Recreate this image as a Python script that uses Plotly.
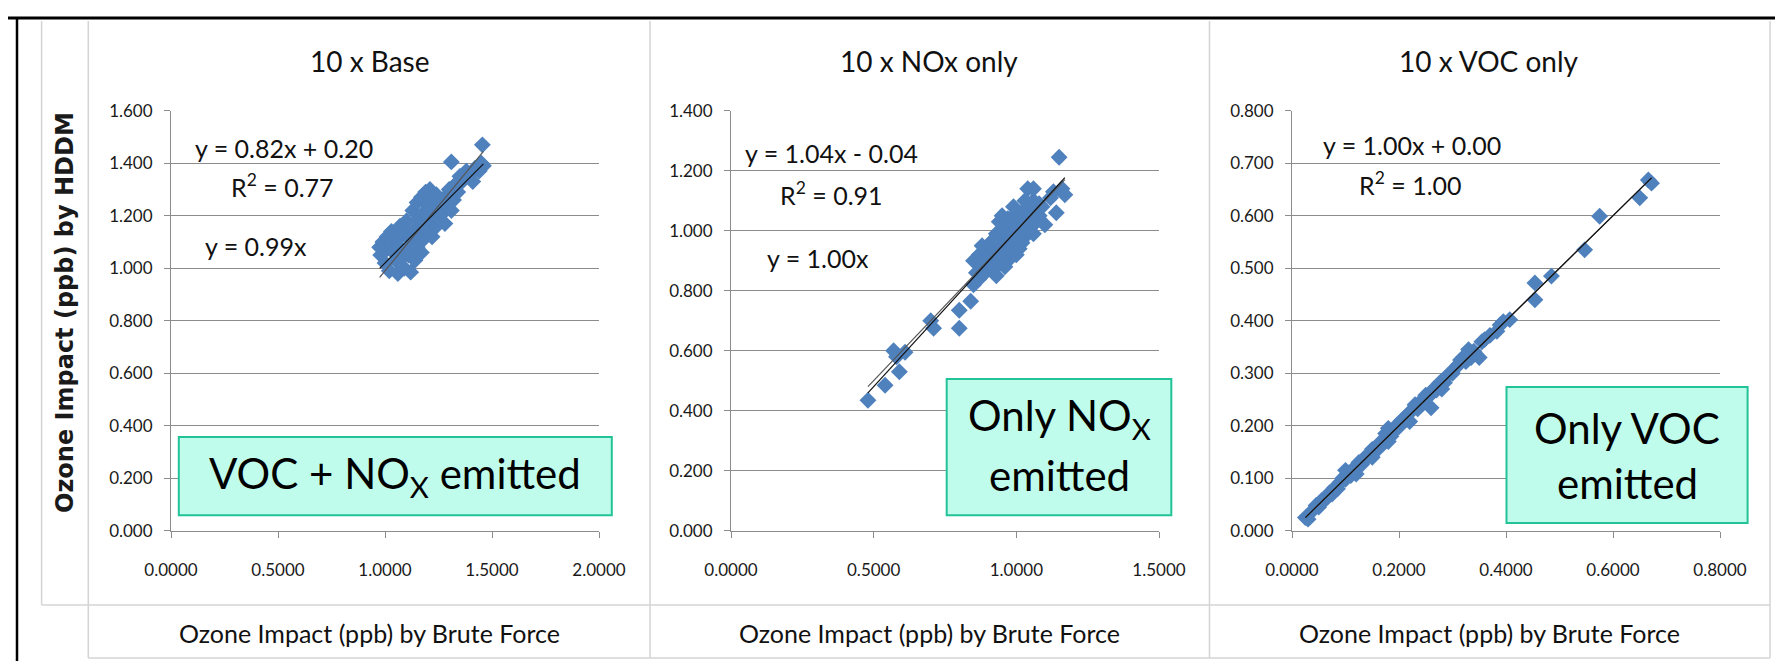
import plotly.graph_objects as go

W, H = 1783, 661

# ---------------- data ----------------
titles = ["10 x Base", "10 x NOx only", "10 x VOC only"]

base_x = [0.975, 0.98, 0.99, 1.00, 1.01, 1.00, 1.02, 1.03, 1.03, 1.04,
          1.05, 1.06, 1.06, 1.07, 1.07, 1.08, 1.09, 1.09, 1.10, 1.10,
          1.11, 1.12, 1.12, 1.13, 1.13, 1.14, 1.14, 1.15, 1.15, 1.16,
          1.16, 1.17, 1.17, 1.18, 1.18, 1.19, 1.19, 1.20, 1.20, 1.21,
          1.21, 1.22, 1.22, 1.23, 1.24, 1.24, 1.25, 1.25, 1.26, 1.27,
          1.28, 1.28, 1.29, 1.30, 1.31, 1.31, 1.32, 1.33, 1.34, 1.35,
          1.36, 1.38, 1.39, 1.41, 1.42, 1.44, 1.45, 1.455, 1.46, 1.40]
base_y = [1.08, 1.05, 1.10, 1.07, 1.12, 1.02, 0.99, 1.09, 1.14, 1.06,
          1.03, 0.98, 1.11, 1.16, 1.08, 1.04, 1.13, 1.00, 1.18, 1.07,
          1.05, 0.985, 1.12, 1.22, 1.10, 1.15, 1.03, 1.25, 1.08, 1.19,
          1.13, 1.27, 1.06, 1.21, 1.11, 1.17, 1.29, 1.24, 1.14, 1.19,
          1.30, 1.12, 1.26, 1.21, 1.16, 1.28, 1.23, 1.19, 1.25, 1.21,
          1.27, 1.17, 1.24, 1.30, 1.405, 1.22, 1.26, 1.32, 1.29, 1.35,
          1.33, 1.37, 1.35, 1.33, 1.38, 1.37, 1.40, 1.47, 1.39, 1.36]

nox_x = [0.48, 0.54, 0.57, 0.58, 0.59, 0.61, 0.70, 0.71, 0.80, 0.80,
         0.84, 0.85, 0.86, 0.85, 0.87, 0.87, 0.88, 0.88, 0.89, 0.89,
         0.90, 0.90, 0.91, 0.91, 0.92, 0.92, 0.93, 0.93, 0.94, 0.94,
         0.94, 0.95, 0.95, 0.95, 0.96, 0.96, 0.97, 0.97, 0.97, 0.98,
         0.98, 0.98, 0.99, 0.99, 1.00, 1.00, 1.00, 1.01, 1.01, 1.02,
         1.02, 1.02, 1.03, 1.03, 1.04, 1.04, 1.04, 1.05, 1.05, 1.06,
         1.06, 1.06, 1.07, 1.07, 1.08, 1.08, 1.10, 1.13, 1.14, 1.15,
         1.16, 1.17, 1.12, 1.09, 0.96, 0.92, 1.01, 0.99, 0.93, 1.03]
nox_y = [0.435, 0.485, 0.60, 0.58, 0.53, 0.595, 0.70, 0.675, 0.675, 0.735,
         0.765, 0.82, 0.86, 0.90, 0.84, 0.92, 0.88, 0.95, 0.86, 0.91,
         0.93, 0.88, 0.96, 0.90, 0.94, 0.87, 0.99, 0.91, 1.03, 0.95,
         0.89, 1.05, 0.97, 0.92, 1.00, 0.94, 1.04, 0.96, 0.90, 1.02,
         0.98, 0.93, 1.05, 0.95, 1.01, 0.97, 0.92, 1.04, 0.99, 1.06,
         0.96, 1.01, 1.03, 0.98, 1.08, 1.00, 1.14, 1.05, 1.02, 1.10,
         0.99, 1.14, 1.07, 1.03, 1.09, 1.05, 1.02, 1.13, 1.06, 1.245,
         1.14, 1.12, 1.11, 1.08, 0.88, 0.97, 0.94, 1.08, 0.85, 1.10]

voc_x = [0.025, 0.03, 0.04, 0.045, 0.05, 0.055, 0.06, 0.065, 0.07, 0.075,
         0.08, 0.085, 0.09, 0.095, 0.10, 0.105, 0.11, 0.115, 0.12, 0.125,
         0.13, 0.135, 0.14, 0.145, 0.15, 0.155, 0.16, 0.165, 0.17, 0.175,
         0.18, 0.185, 0.19, 0.195, 0.20, 0.205, 0.21, 0.215, 0.22, 0.225,
         0.23, 0.235, 0.24, 0.245, 0.25, 0.255, 0.26, 0.265, 0.27, 0.275,
         0.28, 0.285, 0.29, 0.30, 0.305, 0.31, 0.315, 0.32, 0.325, 0.33,
         0.335, 0.34, 0.35, 0.355, 0.36, 0.37, 0.383, 0.389, 0.395, 0.407,
         0.454, 0.454, 0.485, 0.547, 0.575, 0.65, 0.666, 0.672,
         0.10, 0.12, 0.15, 0.18, 0.22, 0.28, 0.33]
voc_y = [0.025, 0.022, 0.04, 0.048, 0.045, 0.057, 0.06, 0.062, 0.072, 0.07,
         0.082, 0.08, 0.092, 0.10, 0.098, 0.11, 0.105, 0.118, 0.12, 0.13,
         0.126, 0.138, 0.14, 0.143, 0.155, 0.15, 0.162, 0.168, 0.165, 0.185,
         0.195, 0.18, 0.19, 0.20, 0.198, 0.21, 0.215, 0.212, 0.225, 0.23,
         0.24, 0.232, 0.245, 0.25, 0.258, 0.255, 0.234, 0.27, 0.268, 0.28,
         0.285, 0.282, 0.295, 0.30, 0.31, 0.315, 0.325, 0.33, 0.322, 0.335,
         0.33, 0.342, 0.33, 0.36, 0.364, 0.372, 0.38, 0.392, 0.398, 0.402,
         0.472, 0.44, 0.485, 0.535, 0.599, 0.634, 0.668, 0.662,
         0.115, 0.108, 0.14, 0.17, 0.208, 0.27, 0.345]

fit_slope = [0.82, 1.04, 1.00]
fit_intercept = [0.20, -0.04, 0.00]
origin_slope = [0.99, 1.00, 1.00]

x_ranges = [[0, 2.0], [0, 1.5], [0, 0.8]]
x_dticks = [0.5, 0.5, 0.2]
y_ranges = [[0, 1.6], [0, 1.4], [0, 0.8]]
y_dticks = [0.2, 0.2, 0.1]

fit_labels = ["y = 0.82x + 0.20", "y = 1.04x - 0.04", "y = 1.00x + 0.00"]
r2_labels = ["R<sup>2</sup> = 0.77", "R<sup>2</sup> = 0.91", "R<sup>2</sup> = 1.00"]
origin_labels = ["y = 0.99x", "y = 1.00x", None]
box_lines = [["VOC + NO<sub>X</sub> emitted"],
             ["Only NO<sub>X</sub>", "emitted"],
             ["Only VOC", "emitted"]]
x_title = "Ozone Impact (ppb) by Brute Force"
y_title = "Ozone Impact (ppb) by HDDM"

# ---------------- layout geometry (pixels) ----------------
def fx(px):
    return px / W

def fy(py):
    return 1 - py / H

plot_x = [(163, 591), (723, 1151), (1284, 1712)]
plot_top, plot_bottom = 102.7, 522.7
cell_centers = [361, 921, 1481]

FONT = "Lato, 'Open Sans', sans-serif"
BLUE = "#4F81BD"
GRID = "#8C8C8C"

fig = go.Figure()
series = [(base_x, base_y), (nox_x, nox_y), (voc_x, voc_y)]

for i, (xs, ys) in enumerate(series):
    sfx = "" if i == 0 else str(i + 1)
    xa, ya = "x" + sfx, "y" + sfx
    fig.add_trace(go.Scatter(x=xs, y=ys, mode="markers", xaxis=xa, yaxis=ya,
                             marker=dict(symbol="diamond", size=13, color=BLUE,
                                         line=dict(width=0)),
                             showlegend=False, hoverinfo="x+y"))
    xmin, xmax = min(xs), max(xs)
    fig.add_trace(go.Scatter(x=[xmin, xmax],
                             y=[origin_slope[i] * xmin, origin_slope[i] * xmax],
                             mode="lines", xaxis=xa, yaxis=ya,
                             line=dict(color="#555555", width=1.2),
                             showlegend=False, hoverinfo="skip"))
    fig.add_trace(go.Scatter(x=[xmin, xmax],
                             y=[fit_slope[i] * xmin + fit_intercept[i],
                                fit_slope[i] * xmax + fit_intercept[i]],
                             mode="lines", xaxis=xa, yaxis=ya,
                             line=dict(color="#111111", width=1.2),
                             showlegend=False, hoverinfo="skip"))

layout = dict(width=W, height=H, autosize=False,
              margin=dict(l=0, r=0, t=0, b=0, pad=0, autoexpand=False),
              paper_bgcolor="white", plot_bgcolor="white", showlegend=False,
              font=dict(family=FONT, color="#1a1a1a"))

for i in range(3):
    sfx = "" if i == 0 else str(i + 1)
    x0, x1 = plot_x[i]
    layout["xaxis" + sfx] = dict(
        domain=[fx(x0), fx(x1)], anchor="y" + sfx, range=x_ranges[i],
        dtick=x_dticks[i], tick0=0, tickformat=".4f", showgrid=False,
        zeroline=False, showline=True, linecolor=GRID, linewidth=1,
        ticks="outside", ticklen=6, tickcolor=GRID, tickwidth=1,
        tickfont=dict(family=FONT, size=17, color="#1a1a1a"),
        ticklabelstandoff=18, automargin=False, fixedrange=True)
    layout["yaxis" + sfx] = dict(
        domain=[fy(plot_bottom), fy(plot_top)], anchor="x" + sfx,
        range=y_ranges[i], dtick=y_dticks[i], tick0=0, tickformat=".3f",
        showgrid=True, gridcolor=GRID, gridwidth=1, zeroline=False,
        showline=True, linecolor=GRID, linewidth=1, ticks="outside",
        ticklen=6, tickcolor=GRID, tickwidth=1,
        tickfont=dict(family=FONT, size=17, color="#1a1a1a"),
        ticklabelstandoff=8, automargin=False, fixedrange=True)

fig.update_layout(**layout)

shapes = []
# black frame (top and left)
shapes.append(dict(type="line", xref="paper", yref="paper", x0=0, x1=1,
                   y0=fy(10), y1=fy(10), line=dict(color="black", width=3)))
shapes.append(dict(type="line", xref="paper", yref="paper", x0=fx(9), x1=fx(9),
                   y0=fy(9), y1=0, line=dict(color="black", width=2.5)))
# light grey table lines
LG = "#D4D4D4"
for xv, ybot in [(33.6, 597), (80.3, 650), (642, 650), (1201.5, 650), (1762, 650)]:
    shapes.append(dict(type="line", xref="paper", yref="paper", x0=fx(xv), x1=fx(xv),
                       y0=fy(13), y1=fy(ybot), line=dict(color=LG, width=1.5)))
for yv, xl in [(597, 33.6), (650, 80.3)]:
    shapes.append(dict(type="line", xref="paper", yref="paper", x0=fx(xl), x1=fx(1762),
                       y0=fy(yv), y1=fy(yv), line=dict(color=LG, width=1.5)))
# text boxes
boxes = [(170.8, 603.8, 429, 507.3), (938.7, 1163.3, 371, 507.3), (1498.5, 1739.6, 379, 515)]
for (bx0, bx1, by0, by1) in boxes:
    shapes.append(dict(type="rect", xref="paper", yref="paper", x0=fx(bx0), x1=fx(bx1),
                       y0=fy(by1), y1=fy(by0), fillcolor="#BFFCEB",
                       line=dict(color="#22C497", width=2), layer="above"))

annotations = []
def ann(text, px, py, size, xanchor="center", **kw):
    annotations.append(dict(text=text, x=fx(px), y=fy(py), xref="paper", yref="paper",
                            xanchor=xanchor, yanchor="middle", showarrow=False,
                            font=dict(family=kw.pop("family", FONT), size=size,
                                      color=kw.pop("color", "#111111")), **kw))

for i in range(3):
    ann(titles[i], cell_centers[i], 53, 28)
    ann(x_title, cell_centers[i], 625, 25)

eq_pos = [[(185, 140), (221, 178), (195, 238)],
          [(735, 145), (770, 185), (757, 250)],
          [(1313, 137), (1349, 176), None]]
for i in range(3):
    ann(fit_labels[i], eq_pos[i][0][0], eq_pos[i][0][1], 25, xanchor="left")
    ann(r2_labels[i], eq_pos[i][1][0], eq_pos[i][1][1], 25, xanchor="left")
    if origin_labels[i]:
        ann(origin_labels[i], eq_pos[i][2][0], eq_pos[i][2][1], 25, xanchor="left")

box_text_pos = [[(386.5, 468)], [(1051, 410), (1051, 467)], [(1619, 420), (1619, 475)]]
for i in range(3):
    for line, (px, py) in zip(box_lines[i], box_text_pos[i]):
        ann(line, px, py, 42, color="#000000")

ann("<b>" + y_title + "</b>", 57, 305, 24, textangle=-90, family="'DejaVu Sans', sans-serif",
    color="#1a1a1a")

fig.update_layout(shapes=shapes, annotations=annotations)
fig.write_html("out.html")
